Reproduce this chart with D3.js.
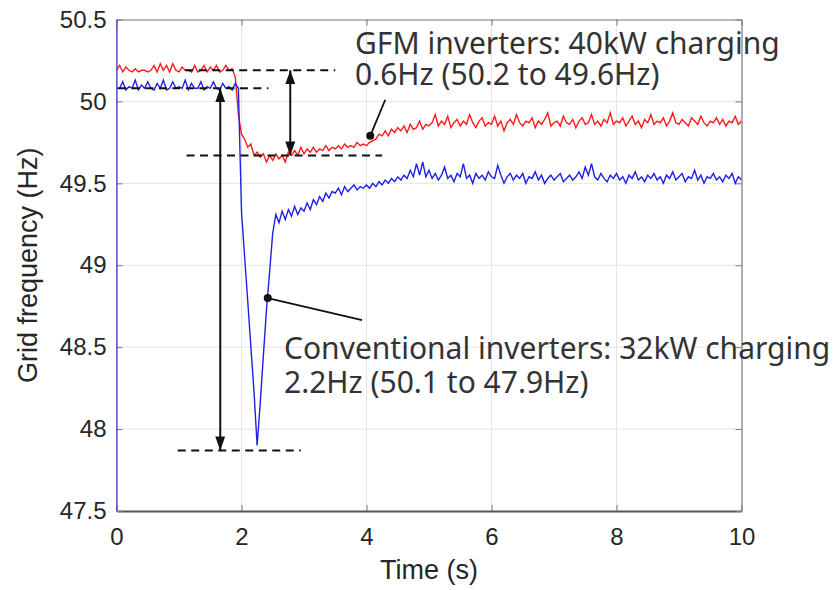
<!DOCTYPE html>
<html><head><meta charset="utf-8">
<script src="https://cdn.jsdelivr.net/npm/d3@7"></script>
<style>body{margin:0;background:#fff;}svg{display:block;}</style>
</head><body>
<svg id="chart" width="833" height="590"></svg>
<script>
// ---------------- DATA ----------------
const timeStep = 0.05;                       // s between samples
const xTicks = [0, 2, 4, 6, 8, 10];
const yTicks = [47.5, 48, 48.5, 49, 49.5, 50, 50.5];
const xLabel = "Time (s)";
const yLabel = "Grid frequency (Hz)";

// GFM inverters, 40kW charging (red)
const gfmValues = [
 50.19,50.22,50.18,50.21,50.19,50.18,50.20,50.18,50.19,50.19,
 50.18,50.19,50.22,50.18,50.23,50.19,50.22,50.18,50.23,50.19,
 50.18,50.21,50.19,50.19,50.18,50.22,50.18,50.19,50.22,50.18,
 50.21,50.19,50.22,50.18,50.19,50.22,50.19,50.20,
 50.15,49.92,49.80,49.77,49.72,49.74,49.67,49.69,49.66,49.68,
 49.63,49.67,49.64,49.68,49.65,49.67,49.63,49.69,49.67,49.70,
 49.67,49.72,49.68,49.71,49.69,49.72,49.69,49.71,49.70,49.73,
 49.70,49.72,49.71,49.73,49.71,49.74,49.72,49.73,49.72,49.75,
 49.73,49.74,49.73,49.75,49.76,49.77,49.80,49.79,49.82,49.79,
 49.83,49.81,49.84,49.82,49.85,49.81,49.86,49.83,49.84,49.88,
 49.83,49.86,49.85,
 49.87,49.92,49.85,49.88,49.86,49.91,49.84,49.87,49.89,49.85,
 49.88,49.86,49.92,49.87,49.84,49.88,49.90,49.85,49.87,49.86,
 49.91,49.85,49.88,49.82,49.87,49.89,49.86,49.92,49.87,49.85,
 49.88,49.87,49.90,49.84,49.88,49.86,49.89,49.93,49.85,49.87,
 49.88,49.85,49.91,49.87,49.86,49.89,49.84,49.88,49.90,49.86,
 49.87,49.92,49.86,49.88,49.85,49.89,49.87,49.93,49.86,49.88,
 49.87,49.90,49.85,49.88,49.91,49.86,49.88,49.84,49.89,49.87,
 49.92,49.86,49.88,49.87,49.90,49.85,49.88,49.93,49.87,49.86,
 49.89,49.87,49.85,49.90,49.88,49.86,49.91,49.87,49.85,49.88,
 49.87,49.90,49.86,49.89,49.85,49.88,49.87,49.91,49.86,49.88
];

// Conventional inverters, 32kW charging (blue); initial transient at t = 0
const convStartValues = [50.5, 47.5];
const convValues = [
 50.08,50.08,50.12,50.07,50.09,50.08,50.13,50.07,50.10,50.08,
 50.12,50.08,50.07,50.11,50.08,50.13,50.07,50.08,50.12,50.08,
 50.09,50.08,50.13,50.07,50.11,50.08,50.08,50.12,50.07,50.09,
 50.08,50.12,50.08,50.07,50.11,50.08,50.09,50.07,50.11,
 50.08,49.33,49.05,48.78,48.50,48.23,47.90,48.16,48.45,48.73,
 48.96,49.20,49.31,49.26,49.33,49.28,49.34,49.30,49.36,49.31,
 49.35,49.33,49.38,49.34,49.40,49.37,49.42,49.39,49.44,49.41,
 49.45,49.44,49.47,49.43,49.48,49.45,49.47,49.49,49.46,49.48,
 49.47,49.49,49.47,49.50,49.48,49.51,49.49,49.52,49.50,49.53,
 49.51,49.54,49.52,49.55,49.53,49.58,49.54,49.62,49.55,49.63,
 49.54,49.58,
 49.53,49.56,49.52,49.55,49.60,49.53,49.55,49.51,49.56,49.54,
 49.62,49.53,49.55,49.50,49.56,49.53,49.55,49.52,49.57,49.54,
 49.53,49.61,49.55,49.50,49.54,49.56,49.52,49.55,49.53,49.56,
 49.50,49.54,49.53,49.57,49.52,49.55,49.50,49.53,49.55,49.52,
 49.54,49.56,49.51,49.53,49.55,49.52,49.54,49.57,49.53,49.60,
 49.55,49.62,49.54,49.52,49.56,49.53,49.51,49.55,49.53,49.56,
 49.52,49.54,49.50,49.55,49.53,49.57,49.52,49.54,49.51,49.55,
 49.53,49.56,49.52,49.54,49.50,49.55,49.53,49.57,49.52,49.54,
 49.56,49.51,49.54,49.53,49.58,49.52,49.55,49.50,49.54,49.53,
 49.56,49.52,49.54,49.51,49.55,49.53,49.56,49.50,49.54,49.52
];

// reference levels (Hz) and their horizontal extent (s)
const dashedLevels = [50.19, 50.08, 49.67, 47.87];
const dashedStart  = [1.10, 0.03, 1.12, 0.98];
const dashedEnd    = [3.50, 2.43, 4.25, 2.95];

// double arrows: time, from level, to level
const arrowTimes = [2.78, 1.66];
const arrowFrom  = [50.19, 50.08];
const arrowTo    = [49.67, 47.87];

// callout leaders: dot (t, f) -> end (t, f)
const calloutDotT = [4.06, 2.42];
const calloutDotF = [49.79, 48.80];
const calloutEndT = [4.30, 3.93];
const calloutEndF = [50.01, 48.665];

const gfmText  = ["GFM inverters: 40kW charging", "0.6Hz (50.2 to 49.6Hz)"];
const convText = ["Conventional inverters: 32kW charging", "2.2Hz (50.1 to 47.9Hz)"];

// ---------------- LAYOUT ----------------
const W = 833, H = 590;
const M = {left: 116.5, right: 833 - 741.5, top: 19.5, bottom: 590 - 511};
const iw = W - M.left - M.right, ih = H - M.top - M.bottom;

const svg = d3.select("#chart");
const x = d3.scaleLinear().domain([0, 10]).range([0, iw]);
const y = d3.scaleLinear().domain([47.5, 50.5]).range([ih, 0]);

const defs = svg.append("defs");
defs.append("clipPath").attr("id", "clip").append("rect")
  .attr("x", 0).attr("y", 0).attr("width", iw).attr("height", ih);
defs.append("marker").attr("id", "arrow")
  .attr("viewBox", "0 0 14 10").attr("refX", 14).attr("refY", 5)
  .attr("markerWidth", 14).attr("markerHeight", 10)
  .attr("markerUnits", "userSpaceOnUse").attr("orient", "auto-start-reverse")
  .append("path").attr("d", "M0,0 L14,5 L0,10 Z").attr("fill", "#111");

const g = svg.append("g").attr("transform", `translate(${M.left},${M.top})`);

// grid
g.append("g").selectAll("line").data(xTicks.slice(1, -1)).join("line")
  .attr("x1", d => x(d)).attr("x2", d => x(d)).attr("y1", 0).attr("y2", ih)
  .attr("stroke", "#e4e4e4").attr("stroke-width", 1);
g.append("g").selectAll("line").data(yTicks.slice(1, -1)).join("line")
  .attr("y1", d => y(d)).attr("y2", d => y(d)).attr("x1", 0).attr("x2", iw)
  .attr("stroke", "#e4e4e4").attr("stroke-width", 1);

const tickFont = "'Liberation Sans', Arial, sans-serif";
const fmt = d => String(d);

// axes
const gx = g.append("g").attr("transform", `translate(0,${ih})`)
  .call(d3.axisBottom(x).tickValues(xTicks).tickFormat(fmt).tickSizeInner(-6).tickSizeOuter(0).tickPadding(17));
const gy = g.append("g")
  .call(d3.axisLeft(y).tickValues(yTicks).tickFormat(fmt).tickSizeInner(-6).tickSizeOuter(0).tickPadding(10));
const gt = g.append("g")
  .call(d3.axisTop(x).tickValues(xTicks).tickFormat("").tickSizeInner(-6).tickSizeOuter(0));
const gr = g.append("g").attr("transform", `translate(${iw},0)`)
  .call(d3.axisRight(y).tickValues(yTicks).tickFormat("").tickSizeInner(-6).tickSizeOuter(0));

[gx, gy, gt, gr].forEach(a => {
  a.select(".domain").attr("stroke", "#777").attr("stroke-width", 1.2);
  a.selectAll(".tick line").attr("stroke", "#777");
  a.selectAll("text").attr("font-family", tickFont).attr("font-size", 24).attr("fill", "#262626");
});
gx.select(".domain").attr("stroke", "#555").attr("stroke-width", 2);

// axis titles
svg.append("text").attr("x", M.left + iw / 2).attr("y", 579)
  .attr("text-anchor", "middle").attr("font-family", tickFont).attr("font-size", 27)
  .attr("fill", "#262626").text(xLabel);
svg.append("text").attr("transform", `translate(37,${M.top + ih / 2}) rotate(-90)`)
  .attr("text-anchor", "middle").attr("font-family", tickFont).attr("font-size", 27)
  .attr("fill", "#262626").text(yLabel);

// series
const plot = g.append("g").attr("clip-path", "url(#clip)");
const line = d3.line().x(d => x(d.t)).y(d => y(d.v));
const gfmData = gfmValues.map((v, i) => ({t: i * timeStep, v}));
const convData = convStartValues.map(v => ({t: 0, v}))
  .concat(convValues.map((v, i) => ({t: i * timeStep, v})));

plot.append("path").datum(gfmData).attr("d", line)
  .attr("fill", "none").attr("stroke", "#ff1a1a").attr("stroke-width", 1.4);
plot.append("path").datum(convData).attr("d", line)
  .attr("fill", "none").attr("stroke", "#1f1fe6").attr("stroke-width", 1.4);

// dashed reference lines
g.append("g").selectAll("line").data(dashedLevels).join("line")
  .attr("x1", (d, i) => x(dashedStart[i])).attr("x2", (d, i) => x(dashedEnd[i]))
  .attr("y1", d => y(d)).attr("y2", d => y(d))
  .attr("stroke", "#111").attr("stroke-width", 2).attr("stroke-dasharray", "8,5.5");

// double arrows
g.append("g").selectAll("line").data(arrowTimes).join("line")
  .attr("x1", d => x(d)).attr("x2", d => x(d))
  .attr("y1", (d, i) => y(arrowFrom[i])).attr("y2", (d, i) => y(arrowTo[i]))
  .attr("stroke", "#111").attr("stroke-width", 2)
  .attr("marker-start", "url(#arrow)").attr("marker-end", "url(#arrow)");

// callouts
g.append("g").selectAll("line").data(calloutDotT).join("line")
  .attr("x1", d => x(d)).attr("y1", (d, i) => y(calloutDotF[i]))
  .attr("x2", (d, i) => x(calloutEndT[i])).attr("y2", (d, i) => y(calloutEndF[i]))
  .attr("stroke", "#111").attr("stroke-width", 1.8);
g.append("g").selectAll("circle").data(calloutDotT).join("circle")
  .attr("cx", d => x(d)).attr("cy", (d, i) => y(calloutDotF[i])).attr("r", 4)
  .attr("fill", "#111");

// annotation text (one text element per line)
const annFont = "'Noto Sans', 'Open Sans', sans-serif";
function block(lines, px, py, lh) {
  lines.forEach((s, i) => svg.append("text")
    .attr("font-family", annFont).attr("font-size", 30).attr("fill", "#333")
    .attr("x", px).attr("y", py + i * lh).text(s));
}
block(gfmText, 355, 54, 31);
block(convText, 284, 359, 34);
</script>
</body></html>
